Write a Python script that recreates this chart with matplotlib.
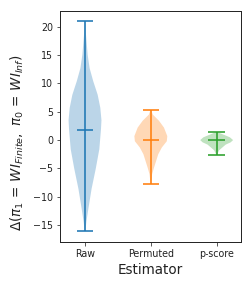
import matplotlib
matplotlib.use("Agg")
import matplotlib.pyplot as plt
import numpy as np

# Estimators
categories = ["Raw", "Permuted", "p-score"]
colors = ["#1f77b4", "#ff7f0e", "#2ca02c"]

# Summary statistics
mins = [-16.1, -7.8, -2.6]
maxs = [21.0, 5.3, 1.4]
means = [1.8, 0.0, 0.0]

# Density profiles (value, relative width)
raw_coords = [-16.1, -14.5, -12.2, -8.6, -5.1, -1.6, 1.9, 3.5, 5.7, 8.0, 10.4, 12.7, 15.1, 18.6, 21.0]
raw_vals = [0.02, 0.08, 0.20, 0.40, 0.65, 0.87, 0.97, 1.00, 0.93, 0.77, 0.50, 0.28, 0.16, 0.06, 0.02]

perm_coords = [-7.8, -6.0, -4.8, -3.7, -2.5, -1.3, -0.2, 0.7, 2.2, 3.4, 4.5, 5.3]
perm_vals = [0.01, 0.08, 0.20, 0.32, 0.45, 0.67, 0.97, 1.00, 0.80, 0.50, 0.12, 0.02]

ps_coords = [-2.6, -1.8, -1.3, -0.8, -0.4, 0.0, 0.5, 1.1, 1.4]
ps_vals = [0.02, 0.15, 0.35, 0.55, 0.85, 1.00, 0.80, 0.30, 0.05]

profiles = [(raw_coords, raw_vals), (perm_coords, perm_vals), (ps_coords, ps_vals)]

fig = plt.figure(figsize=(3.5, 4), dpi=72)
ax = fig.add_axes([60 / 252, 1 - 242 / 288, 181 / 252, 231 / 288])

for i, ((c, v), col) in enumerate(zip(profiles, colors)):
    stats = [dict(coords=np.array(c), vals=np.array(v), mean=means[i],
                  median=means[i], min=mins[i], max=maxs[i])]
    parts = ax.violin(stats, positions=[i + 1], widths=0.5, showmeans=True,
                      showextrema=True)
    for b in parts["bodies"]:
        b.set_facecolor(col)
        b.set_edgecolor("none")
        b.set_alpha(0.3)
    for key in ["cbars", "cmins", "cmaxes", "cmeans"]:
        if key in parts:
            parts[key].set_color(col)
            parts[key].set_linewidth(2)
            parts[key].set_alpha(0.8)

ax.set_xticks([1, 2, 3])
ax.set_xticklabels(categories, fontsize=9.5)
ax.set_yticks([-15, -10, -5, 0, 5, 10, 15, 20])
ax.tick_params(axis="both", labelsize=9.5, length=3.5, width=0.8, color="#333333",
               labelcolor="#222222")
ax.set_xlim(0.62, 3.37)
ax.set_ylim(-18.0, 22.8)
for s in ax.spines.values():
    s.set_color("#262626")
    s.set_linewidth(1.0)

ax.set_xlabel("Estimator", fontsize=13.5, color="#222222")
ax.set_ylabel(r"$\Delta(\pi_1\,=\,WI_{Finite},\ \pi_0\,=\,WI_{Inf})$", fontsize=13.5,
              color="#222222")
ax.yaxis.set_label_coords(-0.19, 0.43)

fig.savefig("out.png", dpi=72)
